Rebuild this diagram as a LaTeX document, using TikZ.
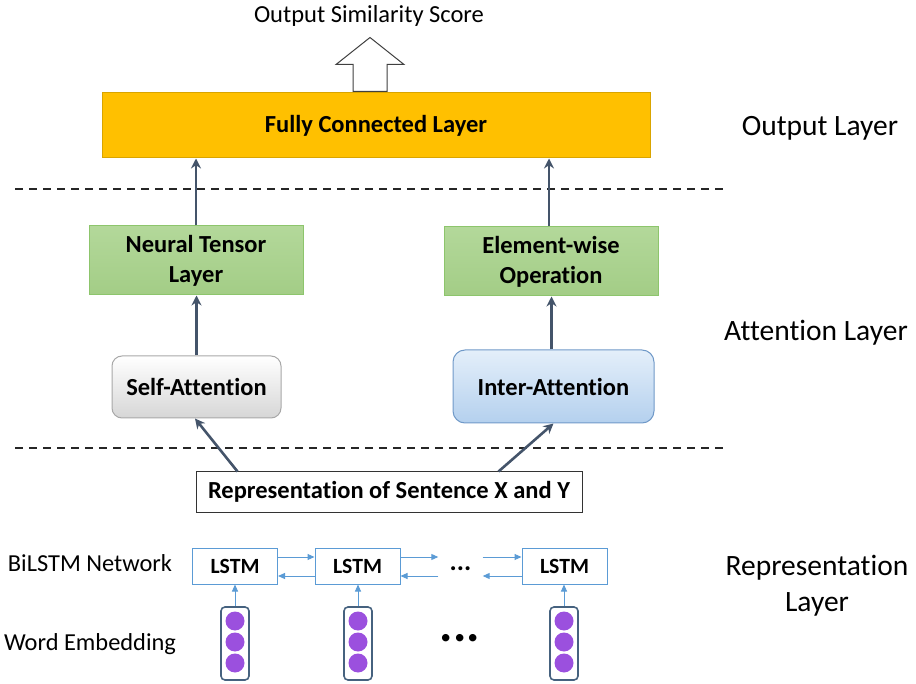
\documentclass[tikz,border=0pt]{standalone}
\usepackage{fontspec}
\setmainfont{Carlito}[Ligatures=CommonOff]
\usetikzlibrary{arrows.meta,calc}

\definecolor{fclfill}{HTML}{FFC000}
\definecolor{fcldraw}{HTML}{D9A400}
\definecolor{greentop}{HTML}{B3D89A}
\definecolor{greenbot}{HTML}{A3CD86}
\definecolor{greendraw}{HTML}{8DC56C}
\definecolor{graydraw}{HTML}{A8A8A8}
\definecolor{graybot}{HTML}{D6D6D6}
\definecolor{bluetop}{HTML}{E4EFFA}
\definecolor{bluebot}{HTML}{B4D0EE}
\definecolor{bluedraw}{HTML}{7099C8}
\definecolor{darkarrow}{HTML}{44546A}
\definecolor{lstmblue}{HTML}{5B9BD5}
\definecolor{embpurple}{HTML}{9B50DE}
\definecolor{embdraw}{HTML}{46627F}

\tikzset{
  boxtext/.style={font=\fontsize{24.5}{30}\selectfont\bfseries, align=center, inner sep=0pt},
  sidelabel/.style={font=\fontsize{29.5}{36}\selectfont, align=center},
  leftlabel/.style={font=\fontsize{24.4}{28}\selectfont},
  fclbox/.style={boxtext, draw=fcldraw, fill=fclfill, line width=1pt},
  greenbox/.style={boxtext, draw=greendraw, top color=greentop, bottom color=greenbot, line width=1pt},
  selfbox/.style={boxtext, draw=graydraw, top color=white, bottom color=graybot, rounded corners=10pt, line width=1pt},
  interbox/.style={boxtext, draw=bluedraw, top color=bluetop, bottom color=bluebot, rounded corners=12pt, line width=1pt},
  repbox/.style={boxtext, draw=black!80, fill=white, line width=1pt},
  lstmbox/.style={font=\fontsize{21.7}{25}\selectfont\bfseries, inner sep=0pt, draw=lstmblue, fill=white, line width=1pt, minimum width=85pt, minimum height=36pt},
  embcol/.style={draw=embdraw, line width=1.6pt, rounded corners=4pt, minimum width=28pt, minimum height=73pt, inner sep=0pt},
  embdot/.style={circle, fill=embpurple, minimum size=19pt, inner sep=0pt},
  flow/.style={draw=darkarrow, line width=2.6pt, -{Stealth[length=10pt,width=10pt]}},
  thin/.style={draw=lstmblue, line width=1pt, -{Triangle[length=7pt,width=6pt]}},
  sep/.style={line width=1.8pt, dash pattern=on 8pt off 6pt, black!85},
}

\begin{document}
\begin{tikzpicture}[x=1pt, y=-1pt]
\useasboundingbox (0,0) rectangle (916,684);

% output
\node[font=\fontsize{24.5}{28}\selectfont] (score) at (369,16) {Output Similarity Score};
\node[fclbox, minimum width=548pt, minimum height=65pt] (fcl) at (376,125.5) {Fully Connected Layer};
% hollow block arrow out of the top layer
\draw[line width=1pt, draw=black!75, fill=white]
  ($(fcl.north)+(-23,-1)$) -- ++(0,-27) -- ++(-17,0) -- ++(34,-27) -- ++(34,27) -- ++(-17,0) -- ++(0,27) -- cycle;

% separators
\draw[sep] (15,189) -- (728,189);
\draw[sep] (15,448) -- (728,448);

% attention layer
\node[greenbox, minimum width=214pt, minimum height=69pt] (ntl) at (196,260.5) {Neural Tensor\\Layer};
\node[greenbox, minimum width=214pt, minimum height=69pt] (ewo) at (551,261.5) {Element-wise\\Operation};
\node[selfbox, minimum width=169pt, minimum height=62pt] (self) at (196.5,387) {Self-Attention};
\node[interbox, minimum width=201pt, minimum height=73pt] (inter) at (553.5,386.5) {Inter-Attention};

\node[repbox, minimum width=386pt, minimum height=40pt] (rep) at (389,492) {Representation of Sentence X and Y};

\draw[flow] (ntl.north) -- (ntl.north |- fcl.south);
\draw[flow] ([xshift=-2pt]ewo.north) -- ([xshift=-2pt]ewo.north |- fcl.south);
\draw[flow] (self.north) -- (self.north |- ntl.south);
\draw[flow] ([xshift=-2pt]inter.north) -- ([xshift=-2pt]inter.north |- ewo.south);
\draw[flow] ([xshift=42pt]rep.north west) -- ([xshift=-1.5pt]self.south);
\draw[flow] ([xshift=-84pt]rep.north east) -- (inter.south);

% BiLSTM network
\node[lstmbox] (l1) at (235,566) {LSTM};
\node[lstmbox] (l2) at (357.5,566) {LSTM};
\node[lstmbox] (l3) at (564.5,566) {LSTM};
\node[font=\fontsize{27}{30}\selectfont\bfseries, minimum width=44pt, inner sep=0pt] (ld) at (460.5,569) {...};

\draw[thin] ([yshift=9pt]l1.east) -- ([yshift=9pt]l2.west);
\draw[thin] ([yshift=-10pt]l2.west) -- ([yshift=-10pt]l1.east);
\draw[thin] ([yshift=9pt]l2.east) -- ([yshift=9pt]l2.east -| ld.west);
\draw[thin] ([yshift=-10pt]l2.east -| ld.west) -- ([yshift=-10pt]l2.east);
\draw[thin] ([yshift=9pt]l3.west -| ld.east) -- ([yshift=9pt]l3.west);
\draw[thin] ([yshift=-10pt]l3.west) -- ([yshift=-10pt]l3.west -| ld.east);

% word embeddings
\foreach \n/\x in {e1/235, e2/358, e3/564}{
  \node[embcol] (\n) at (\x,643.5) {};
  \node[embdot] at (\x,621) {};
  \node[embdot] at (\x,642) {};
  \node[embdot] at (\x,663) {};
}
\node[font=\fontsize{50}{52}\selectfont\bfseries] (ed) at (460,638) {...};
\draw[thin] (e1.north) -- (l1.south);
\draw[thin] (e2.north) -- ([xshift=0.5pt]l2.south);
\draw[thin] (e3.north) -- ([xshift=-0.5pt]l3.south);

% row labels
\node[leftlabel] (bil) at (90,563) {BiLSTM Network};
\node[leftlabel] (we) at (90,644) {Word Embedding};
\node[sidelabel] (ol) at (820,128) {Output Layer};
\node[sidelabel] (al) at (816,333) {Attention Layer};
\node[sidelabel] (rl) at (817,586) {Representation\\Layer};
\end{tikzpicture}
\end{document}
